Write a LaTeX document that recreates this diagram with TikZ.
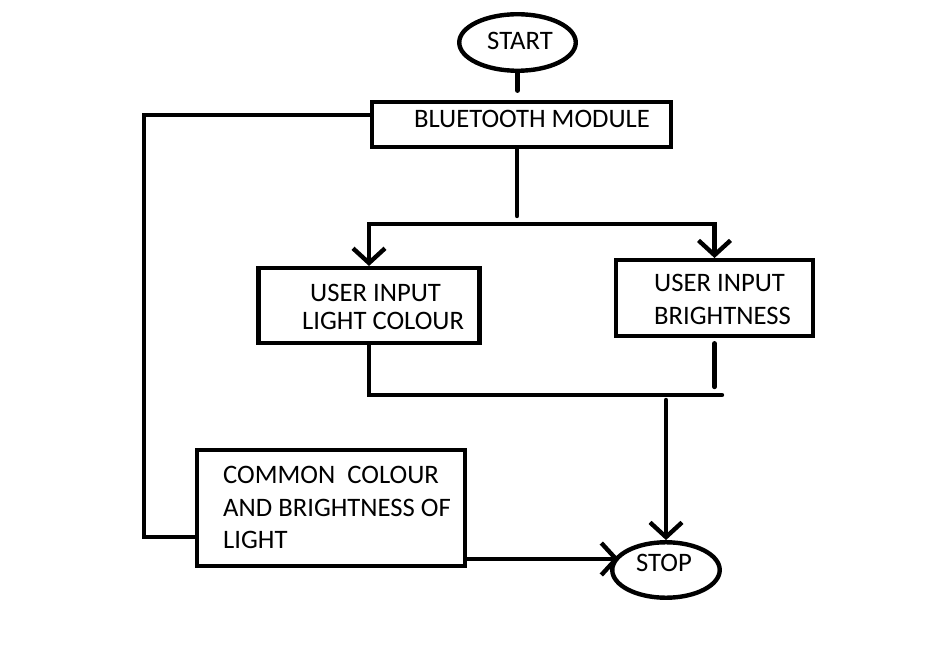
\documentclass[tikz,border=0pt]{standalone}
\usepackage{fontspec}
\setmainfont{Carlito}
\usetikzlibrary{arrows.meta,shapes.geometric}
\begin{document}
\begin{tikzpicture}[x=0.75pt,y=-0.75pt,
  line width=3.3pt,
  box/.style={draw, rectangle, inner sep=0pt},
  oval/.style={draw, ellipse, inner sep=0pt},
  txt/.style={inner sep=0pt, font=\fontsize{20}{24.6}\selectfont},
  arr/.style={-{Straight Barb[length=11pt,width=24pt,line width=3.3pt]}},
  line cap=round]
\useasboundingbox (0,0) rectangle (939,659);
% shapes
\node[oval, minimum width=87.4pt, minimum height=42.4pt] (start) at (517.5,42.5) {};
\node[box, minimum width=224pt, minimum height=33.4pt] (bt) at (521.5,124.5) {};
\node[box, minimum width=166pt, minimum height=56pt] (uc) at (369,305.5) {};
\node[box, minimum width=147.4pt, minimum height=56.6pt] (ub) at (714.5,298) {};
\node[box, minimum width=200.6pt, minimum height=86.6pt] (cm) at (331,508) {};
\node[oval, minimum width=80.6pt, minimum height=41.6pt] (stop) at (666,570) {};
% texts
\node[txt] (startT) at (520,41) {START};
\node[txt] (btT) at (532,119) {BLUETOOTH MODULE};
\node[txt, align=left, anchor=west, font=\fontsize{20}{21}\selectfont] (ucT) at (300,307) {\hspace{6pt}USER INPUT\\LIGHT COLOUR};
\node[txt, align=left, anchor=west] (ubT) at (652,299.5) {USER INPUT\\BRIGHTNESS};
\node[txt, align=left, anchor=west] (cmT) at (221,507.5) {COMMON\ \ COLOUR\\AND BRIGHTNESS OF\\LIGHT};
\node[txt] (stopT) at (664,563) {STOP};
% junction coordinates
\coordinate (split) at (517,224);
\coordinate (lt) at (144,115);
\coordinate (lb) at (144,537);
\coordinate (mergeR) at (722,395);
\coordinate (merge) at (666,400);
\coordinate (outy) at (466,559);
\coordinate (stopin) at (619,559);
% connectors
\draw[shorten >=7pt] (start.south) -- (start.south |- bt.north);
\draw[shorten >=6pt] (bt.south -| split) -- (split);
\draw[arr] (split) -| (uc.north);
\draw[arr] (split) -| (ub.north);
\draw (uc.south) |- (mergeR);
\draw[shorten <=4pt, shorten >=6pt] (ub.south) -- (ub.south |- mergeR);
\draw[arr] (merge) -- (stop.north);
\draw (bt.west |- lt) -- (lt) -- (lb) -- (cm.west |- lb);
\draw[arr] (outy) -- (stopin);
\end{tikzpicture}
\end{document}
